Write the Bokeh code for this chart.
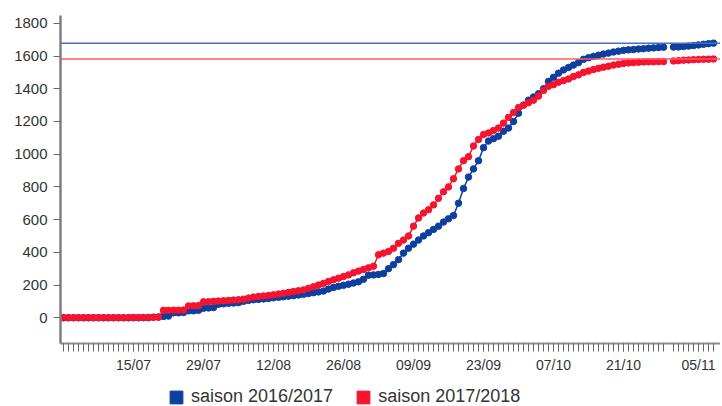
import numpy as np
import pandas as pd
from bokeh.plotting import figure
from bokeh.layouts import column
from bokeh.models import FixedTicker, Span, Legend, LegendItem, Range1d
from bokeh.embed import file_html
from bokeh.resources import INLINE

nan = float("nan")

# Daily dates (01/07 .. 08/11)
dates = pd.date_range("2017-07-01", "2017-11-08", freq="D")
date_labels = [d.strftime("%d/%m") for d in dates]
days = list(range(len(dates)))

tick_labels = ["15/07", "29/07", "12/08", "26/08", "09/09", "23/09", "07/10", "21/10", "05/11"]
y_ticks = [0, 200, 400, 600, 800, 1000, 1200, 1400, 1600, 1800]

series_names = ["saison 2016/2017", "saison 2017/2018"]

saison_2016_2017 = (
    [0] * 18
    + [3, 5, 8, 10]
    + [30, 30, 32]
    + [42, 42, 45]
    + [58, 60, 62]
    + [82, 85, 88, 90, 92]
    + [100, 106, 110, 112, 115, 118]
    + [122, 125, 128, 132, 135, 139]
    + [143, 148, 153, 158, 163, 175, 185, 192]
    + [198, 205, 212, 220, 235, 260, 262]
    + [265, 270, 300, 325, 355, 395, 425, 450]
    + [475, 500, 520, 540, 560, 585, 605, 625, 700, 790]
    + [860, 910, 960, 1040, 1080, 1095, 1110, 1140, 1160, 1200]
    + [1250, 1300, 1330, 1350, 1370, 1400, 1445, 1470, 1495, 1515]
    + [1530, 1545, 1560, 1580, 1590, 1598, 1605, 1612, 1618, 1625]
    + [1630, 1635, 1638, 1640, 1643, 1645, 1648, 1650, 1652, 1654]
    + [nan]
    + [1655, 1656, 1658, 1661, 1664, 1668, 1672, 1676, 1679]
)

saison_2017_2018 = (
    [0] * 14
    + [1, 1, 2, 2, 3, 3]
    + [45, 45, 46, 46, 47]
    + [72, 73, 74]
    + [97, 98, 100]
    + [102, 104, 106, 108, 110]
    + [113, 120, 126, 130, 133, 136]
    + [140, 145, 150, 155, 160, 165]
    + [170, 180, 190, 200, 210, 222, 232, 242]
    + [252, 262, 275, 285, 295, 305, 315]
    + [385, 395, 405, 425, 455, 475, 500, 560]
    + [610, 640, 660, 690, 730, 770, 800, 850, 910, 960]
    + [985, 1050, 1090, 1120, 1130, 1145, 1160, 1190, 1225, 1255]
    + [1285, 1300, 1315, 1330, 1355, 1390, 1415, 1425, 1440, 1450]
    + [1460, 1475, 1485, 1500, 1508, 1518, 1525, 1532, 1538, 1545]
    + [1550, 1555, 1558, 1560, 1562, 1564, 1565, 1565, 1566, 1566]
    + [nan]
    + [1570, 1572, 1575, 1576, 1578, 1579, 1580, 1581, 1582]
)

BLUE = "#0d3f9f"
RED = "#f5142f"
FONT = "Liberation Sans"

p = figure(
    width=720, height=375, output_backend="svg", toolbar_location=None,
    x_range=Range1d(-0.6, 131.4), y_range=Range1d(-157.6, 1848),
    min_border_left=60, min_border_top=15, min_border_right=0, min_border_bottom=29,
)
p.grid.visible = False
p.outline_line_color = None
p.background_fill_color = "white"

# reference lines at season totals
p.add_layout(Span(location=float(np.nanmax(saison_2016_2017)), dimension="width",
                  line_color="#4a6fbf", line_width=1.5))
p.add_layout(Span(location=float(np.nanmax(saison_2017_2018)), dimension="width",
                  line_color="#ff5a6a", line_width=1.5))

for vals, col in [(saison_2016_2017, BLUE), (saison_2017_2018, RED)]:
    p.line(days, vals, line_color=col, line_width=1.5)
    p.scatter(days, vals, size=6.5, fill_color=col, line_color=col)

# x axis
valid_days = [d for d in days if not np.isnan(saison_2016_2017[d])]
major = [date_labels.index(t) for t in tick_labels]
p.xaxis.ticker = FixedTicker(ticks=major, minor_ticks=valid_days)
p.xaxis.major_label_overrides = {i: date_labels[i] for i in major}
p.xaxis.axis_line_color = "#8c8c8c"
p.xaxis.axis_line_width = 2
p.xaxis.major_tick_line_color = "#666666"
p.xaxis.minor_tick_line_color = "#666666"
p.xaxis.major_tick_out = 8
p.xaxis.major_tick_in = 0
p.xaxis.minor_tick_out = 8
p.xaxis.minor_tick_in = 0
p.xaxis.major_label_standoff = 5
p.xaxis.major_label_text_font = FONT
p.xaxis.major_label_text_font_size = "14px"
p.xaxis.major_label_text_color = "#333333"

# y axis
p.yaxis.ticker = FixedTicker(ticks=y_ticks)
p.yaxis.axis_line_color = "#7f7f7f"
p.yaxis.axis_line_width = 2.5
p.yaxis.major_tick_line_color = "#666666"
p.yaxis.major_tick_out = 7
p.yaxis.major_tick_in = 0
p.yaxis.minor_tick_line_color = None
p.yaxis.major_label_standoff = 6
p.yaxis.major_label_text_font = FONT
p.yaxis.major_label_text_font_size = "15px"
p.yaxis.major_label_text_color = "#333333"

# legend strip (its frame is aligned with the main frame by the column layout)
q = figure(width=720, height=30, output_backend="svg", toolbar_location=None,
           x_range=Range1d(0, 1), y_range=Range1d(0, 1), min_border=0)
q.xaxis.visible = False
q.yaxis.visible = False
q.grid.visible = False
q.outline_line_color = None
# legend proxies lie outside the strip's visible range
r_b = q.quad(left=[-3], right=[-2], top=[-2], bottom=[-3], fill_color=BLUE, line_color=BLUE)
r_r = q.quad(left=[-3], right=[-2], top=[-2], bottom=[-3], fill_color=RED, line_color=RED)
legend = Legend(
    items=[LegendItem(label=series_names[0], renderers=[r_b]),
           LegendItem(label=series_names[1], renderers=[r_r])],
    orientation="horizontal", location=(108, -2),
    label_text_font=FONT, label_text_font_size="18px", label_text_color="#333333",
    glyph_width=16, glyph_height=16, label_standoff=7, spacing=22,
    border_line_color=None, background_fill_alpha=0, padding=0, margin=0,
)
q.add_layout(legend, "center")

open("out.html", "w").write(file_html(column(p, q, spacing=0), INLINE))
